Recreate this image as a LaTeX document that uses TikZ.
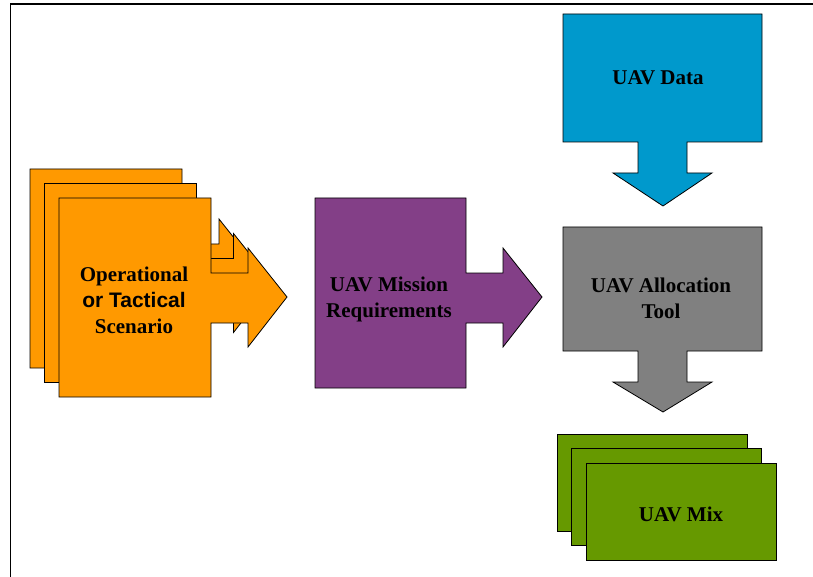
\documentclass[tikz,border=0pt]{standalone}
\usepackage{fontspec}
\setmainfont{Liberation Serif}
\setsansfont{Liberation Sans}
\usepackage{tikz}
\usepackage{xcolor}
\usetikzlibrary{positioning}

\definecolor{scenarioorange}{HTML}{FF9900}
\definecolor{missionpurple}{HTML}{833F87}
\definecolor{datablue}{HTML}{0099CC}
\definecolor{toolgray}{HTML}{808080}
\definecolor{mixgreen}{HTML}{669900}

\tikzset{
    sheet/.style={draw=black, line width=0.8pt, line join=miter},
    blocktext/.style={font=\bfseries\fontsize{21}{26}\selectfont, align=center, text=black}
}

\begin{document}
\begin{tikzpicture}[x=1pt, y=-1pt]
        \useasboundingbox (0,0) rectangle (813,577);

        % Draw frame
        \draw[line width=1.6pt] (10.5,577) -- (10.5,4) -- (813,4);

        % Draw scenario stack (sheets with arrows)
        \foreach \s in {29,14.5,0} {
            \filldraw[sheet, fill=scenarioorange, shift={(-\s,-\s)}]
                (59,198) -- (211,198) -- (211,273) -- (248,273) -- (248,248)
                -- (287,297) -- (248,347) -- (248,323) -- (211,323)
                -- (211,397) -- (59,397) -- cycle;
        }
        \node[blocktext] (scenario) at (134,300)
            {Operational\\{\sffamily or Tactical}\\Scenario};

        % Draw mission requirements
        \filldraw[sheet, fill=missionpurple]
            (315,198) -- (466,198) -- (466,273) -- (503,273) -- (503,248)
            -- (542,297) -- (503,347) -- (503,323) -- (466,323)
            -- (466,388) -- (315,388) -- cycle;
        \node[blocktext] (mission) at (389,299) {UAV Mission\\Requirements};

        % Draw UAV data
        \filldraw[sheet, fill=datablue]
            (563,14) -- (762,14) -- (762,142) -- (687,142) -- (687,173)
            -- (712,173) -- (663,206) -- (613,173) -- (638,173)
            -- (638,142) -- (563,142) -- cycle;
        \node[blocktext] (data) at (658,78) {UAV Data};

        % Draw allocation tool
        \filldraw[sheet, fill=toolgray]
            (563,227) -- (762,227) -- (762,351) -- (687,351) -- (687,382)
            -- (712,382) -- (663,412) -- (613,382) -- (638,382)
            -- (638,351) -- (563,351) -- cycle;
        \node[blocktext] (tool) at (661,298) {UAV Allocation\\Tool};

        % Draw UAV mix stack
        \foreach \s in {29,14.5,0} {
            \filldraw[sheet, fill=mixgreen, shift={(-\s,-\s)}]
                (586,463) rectangle (776,560);
        }
        \node[blocktext] (mix) at (681,514) {UAV Mix};
    \end{tikzpicture}
\end{document}
